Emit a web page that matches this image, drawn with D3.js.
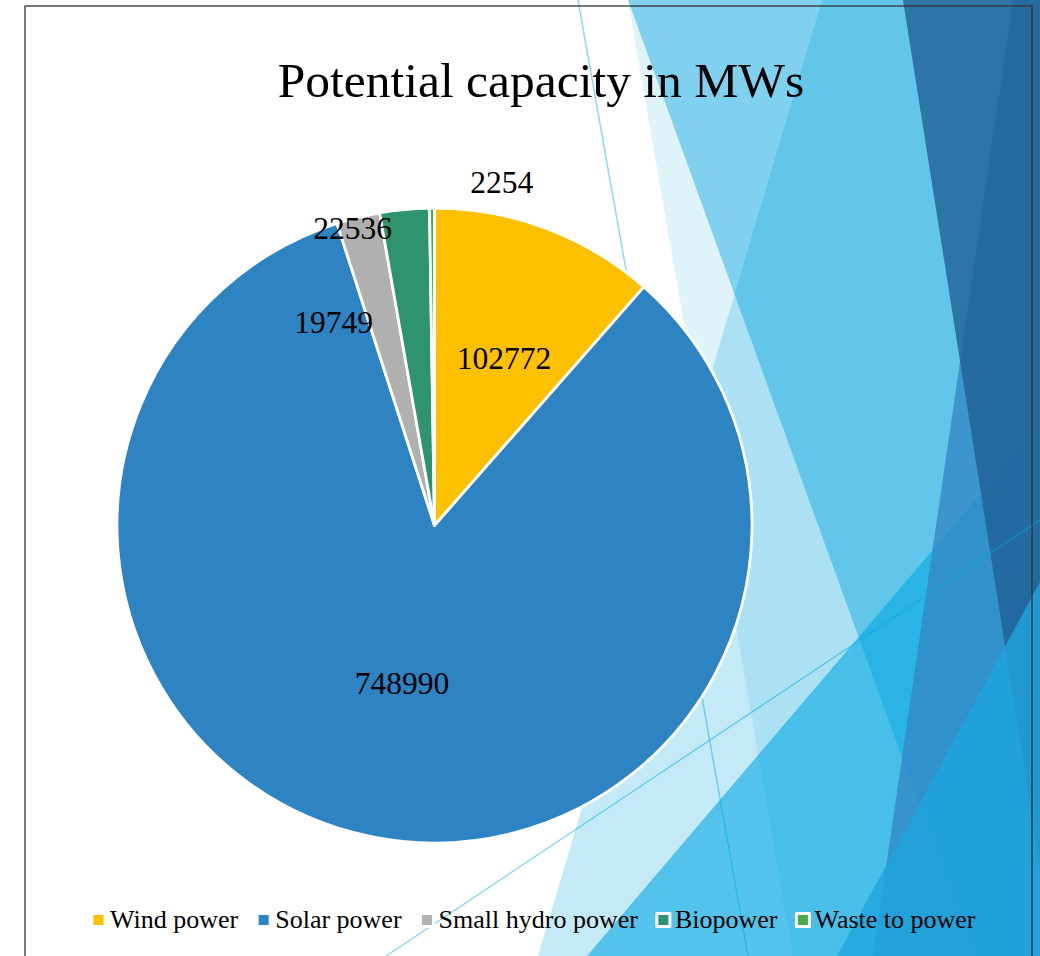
<!DOCTYPE html>
<html>
<head>
<meta charset="utf-8">
<script src="https://cdn.jsdelivr.net/npm/d3@7"></script>
<style>
  html, body { margin: 0; padding: 0; background: #ffffff; }
  svg { display: block; }
</style>
</head>
<body>
<svg id="chart" width="1040" height="956"></svg>
<script>
// ---- data ----
const categories = ["Wind power", "Solar power", "Small hydro power", "Biopower", "Waste to power"];
const capacities = [102772, 748990, 19749, 22536, 2254];
const sliceColors = ["#FFC000", "#2E83C3", "#B0B0B0", "#2E946E", "#45B048"];
const chartTitle = "Potential capacity in MWs";

// data label placement: angle clockwise from 12 o'clock (degrees), distance as a share of the radius
const labelAngleDeg = [22.6, 191.7, 333.6, 344.6, 11.1];
const labelDist = [0.569, 0.506, 0.714, 0.972, 1.102];

const W = 1040, H = 956;
const serif = "'Liberation Serif', 'Times New Roman', serif";
const svg = d3.select("#chart");

// ---- slide backdrop: translucent facets on the right-hand side ----
const facets = [
  { pts: [[628, 0], [793, 956], [1100, 956], [1100, 0]], fill: "rgb(0,159,215)", op: 0.125 },
  { pts: [[628, 0], [974, 956], [1100, 956], [1100, 0]], fill: "rgb(0,164,224)", op: 0.43 },
  { pts: [[822, 0], [538, 956], [1100, 956], [1100, 0]], fill: "rgb(0,162,220)", op: 0.227 },
  { pts: [[587, 956], [1040, 424], [1100, 353.6], [1100, 956]], fill: "rgb(0,167,225)", op: 0.58 },
  { pts: [[1013, 0], [873, 956], [1100, 956], [1100, 0]], fill: "rgb(51,136,196)", op: 0.8 },
  { pts: [[903, 0], [1054, 956], [1100, 956], [1100, 0]], fill: "rgb(33,96,149)", op: 0.8 },
  { pts: [[837, 956], [1040, 582], [1100, 471.6], [1100, 956]], fill: "rgb(30,165,220)", op: 0.8 }
];
const backdrop = svg.append("g");
backdrop.selectAll("polygon").data(facets).join("polygon")
  .attr("points", d => d.pts.map(p => p.join(",")).join(" "))
  .attr("fill", d => d.fill)
  .attr("fill-opacity", d => d.op);

const strands = [
  [[578, 0], [748, 956]],
  [[386, 956], [1040, 520]]
];
backdrop.selectAll("line").data(strands).join("line")
  .attr("x1", d => d[0][0]).attr("y1", d => d[0][1])
  .attr("x2", d => d[1][0]).attr("y2", d => d[1][1])
  .attr("stroke", "rgb(0,170,225)")
  .attr("stroke-opacity", 0.45)
  .attr("stroke-width", 1.5);

// chart area outline
svg.append("rect")
  .attr("x", 25).attr("y", 6)
  .attr("width", 1007).attr("height", 1000)
  .attr("fill", "none")
  .attr("stroke", "#333333")
  .attr("stroke-width", 1.3);

// ---- title ----
svg.append("text")
  .attr("x", 541).attr("y", 97)
  .attr("text-anchor", "middle")
  .attr("font-family", serif)
  .attr("font-size", 49.5)
  .attr("fill", "#000")
  .text(chartTitle);

// ---- pie ----
const cx = 434.5, cy = 525.5, R = 317.5;
const pie = d3.pie().sort(null).value(d => d);
const arcs = pie(capacities);
const arc = d3.arc().innerRadius(0).outerRadius(R);

const pieG = svg.append("g").attr("transform", `translate(${cx},${cy})`);
pieG.selectAll("path").data(arcs).join("path")
  .attr("d", arc)
  .attr("fill", (d, i) => sliceColors[i])
  .attr("stroke", "#ffffff")
  .attr("stroke-width", 2.8)
  .attr("stroke-linejoin", "round");

// data labels
const labelSize = 31.5;
pieG.selectAll("text.val").data(arcs).join("text")
  .attr("class", "val")
  .attr("x", (d, i) => labelDist[i] * R * Math.sin(labelAngleDeg[i] * Math.PI / 180))
  .attr("y", (d, i) => -labelDist[i] * R * Math.cos(labelAngleDeg[i] * Math.PI / 180) + labelSize * 0.34)
  .attr("text-anchor", "middle")
  .attr("font-family", serif)
  .attr("font-size", labelSize)
  .attr("fill", "#000")
  .text(d => d3.format("d")(d.value));

// ---- legend ----
const legendSize = 26;
const markerInner = 10, markerGap = 6.5, itemGap = 20.5;
const legendCenterX = 534.5, legendMidY = 920, legendBaseline = 928;

const legend = svg.append("g");
const items = legend.selectAll("g").data(categories).join("g");
items.append("rect")
  .attr("x", -1.5).attr("y", legendMidY - markerInner / 2 - 1.5)
  .attr("width", markerInner + 3).attr("height", markerInner + 3)
  .attr("fill", (d, i) => sliceColors[i])
  .attr("stroke", "#ffffff")
  .attr("stroke-width", 3)
  .attr("stroke-linejoin", "round");
items.append("text")
  .attr("x", markerInner + markerGap)
  .attr("y", legendBaseline)
  .attr("font-family", serif)
  .attr("font-size", legendSize)
  .attr("fill", "#000")
  .text(d => d);

const widths = [];
items.each(function () {
  widths.push(markerInner + markerGap + d3.select(this).select("text").node().getComputedTextLength());
});
const total = d3.sum(widths) + itemGap * (widths.length - 1);
let xPos = legendCenterX - total / 2;
items.attr("transform", (d, i) => {
  const t = `translate(${xPos},0)`;
  xPos += widths[i] + itemGap;
  return t;
});
</script>
</body>
</html>
